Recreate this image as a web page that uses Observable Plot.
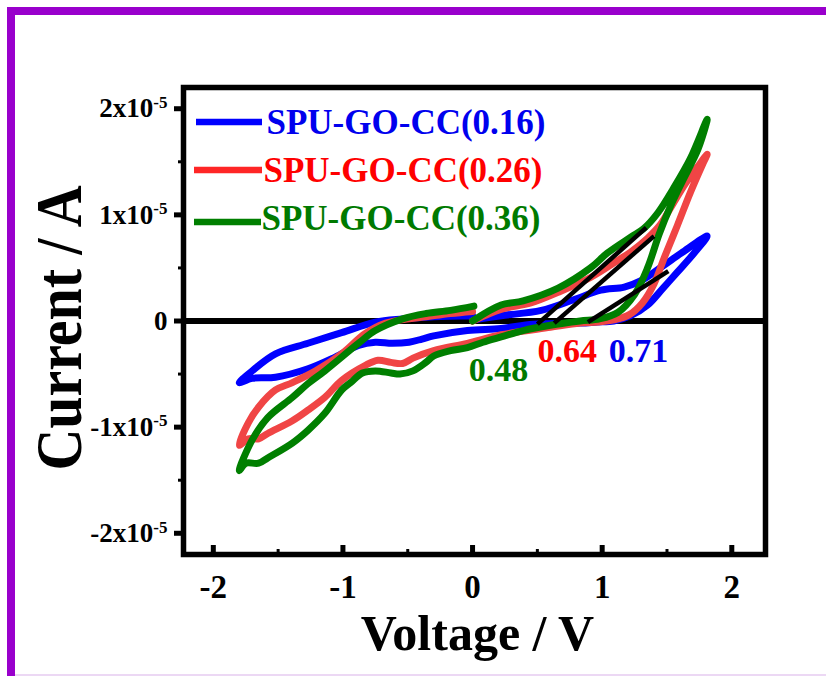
<!DOCTYPE html>
<html>
<head>
<meta charset="utf-8">
<script src="https://cdn.jsdelivr.net/npm/d3@7"></script>
<script src="https://cdn.jsdelivr.net/npm/@observablehq/plot@0.6"></script>
<style>
  html, body { margin: 0; padding: 0; background: #fff; }
  #wrap { position: relative; width: 826px; height: 676px; overflow: hidden; background: #fff; }
  #wrap svg { position: absolute; left: 0; top: 0; }
  #border { position: absolute; left: 7px; top: 7px; width: 900px; height: 900px; box-sizing: border-box;
            border-left: 8px solid #9900cc; border-top: 8px solid #9900cc; z-index: 2; pointer-events: none; }
  #bottomline { position: absolute; left: 15px; top: 674px; width: 820px; height: 2px; background: #ecd8f4; z-index: 2; }
</style>
</head>
<body>
<div id="wrap"><div id="border"></div><div id="bottomline"></div></div>
<script>
// ---------------- data ----------------
const seriesNames = ["SPU-GO-CC(0.16)", "SPU-GO-CC(0.26)", "SPU-GO-CC(0.36)"];

// Voltage (V) and current (x10^-5 A), traced along each CV loop
const blueV = [0.00,0.22,0.53,0.78,0.99,1.17,1.30,1.47,1.61,1.81,1.71,1.58,1.47,1.35,1.22,1.09,0.96,0.83,0.47,0.22,-0.04,-0.30,-0.39,-0.49,-0.62,-0.75,-0.88,-1.06,-1.27,-1.52,-1.70,-1.80,-1.70,-1.52,-1.27,-1.01,-0.75,-0.54,-0.30,0.00];
const blueI = [0.01,0.05,0.10,0.20,0.29,0.32,0.38,0.52,0.64,0.80,0.64,0.46,0.31,0.15,0.05,0.00,-0.01,-0.02,-0.03,-0.07,-0.09,-0.14,-0.17,-0.20,-0.21,-0.20,-0.23,-0.34,-0.45,-0.53,-0.54,-0.58,-0.47,-0.31,-0.21,-0.11,-0.01,0.02,0.04,0.05];

const redV = [0.00,0.22,0.45,0.66,0.91,1.12,1.22,1.35,1.45,1.53,1.64,1.74,1.81,1.78,1.68,1.58,1.48,1.40,1.31,1.21,1.09,0.97,0.83,0.60,0.22,-0.04,-0.30,-0.46,-0.54,-0.63,-0.73,-0.83,-1.01,-1.14,-1.27,-1.39,-1.58,-1.65,-1.73,-1.80,-1.73,-1.65,-1.52,-1.39,-1.21,-1.01,-0.83,-0.67,-0.49,-0.36,-0.17,0.00];
const redI = [0.00,0.11,0.17,0.27,0.41,0.57,0.65,0.78,0.91,1.07,1.29,1.46,1.57,1.49,1.21,0.90,0.60,0.35,0.17,0.06,0.01,-0.01,-0.02,-0.06,-0.13,-0.21,-0.28,-0.35,-0.40,-0.39,-0.37,-0.42,-0.56,-0.72,-0.84,-0.94,-1.06,-1.11,-1.11,-1.17,-0.96,-0.81,-0.65,-0.58,-0.47,-0.31,-0.12,-0.02,0.02,0.04,0.07,0.09];

const greenV = [0.00,0.22,0.39,0.66,0.91,1.04,1.22,1.32,1.43,1.55,1.68,1.81,1.74,1.62,1.53,1.44,1.35,1.25,1.12,0.98,0.83,0.60,0.39,0.22,0.08,-0.04,-0.17,-0.30,-0.36,-0.46,-0.56,-0.63,-0.75,-0.85,-0.94,-1.01,-1.14,-1.27,-1.39,-1.58,-1.65,-1.75,-1.80,-1.70,-1.58,-1.39,-1.27,-1.14,-0.88,-0.75,-0.54,-0.36,-0.17,0.01];
const greenI = [0.00,0.15,0.19,0.31,0.50,0.64,0.79,0.87,1.02,1.25,1.53,1.90,1.62,1.32,1.09,0.82,0.50,0.25,0.08,0.02,0.00,-0.04,-0.09,-0.15,-0.20,-0.25,-0.28,-0.33,-0.39,-0.47,-0.50,-0.49,-0.47,-0.49,-0.58,-0.65,-0.87,-1.03,-1.15,-1.29,-1.34,-1.34,-1.41,-1.12,-0.91,-0.72,-0.59,-0.47,-0.21,-0.09,0.02,0.07,0.10,0.14];

// Tangent lines (onset potentials)
const tangentV1 = [0.89, 0.63, 0.50];
const tangentI1 = [-0.01, -0.02, -0.03];
const tangentV2 = [1.51, 1.40, 1.34];
const tangentI2 = [0.47, 0.80, 0.88];

// Onset labels
const onsetText = ["0.71", "0.64", "0.48"];
const onsetV = [1.28, 0.73, 0.20];
const onsetI = [-0.28, -0.28, -0.46];

const xTicks = [-2, -1, 0, 1, 2];
const xMinor = [-1.5, -0.5, 0.5, 1.5];
const yTicks = [-2, -1, 0, 1, 2];          // x10^-5 A
const yMinor = [-1.5, -0.5, 0.5, 1.5];

// ---------------- styles ----------------
const lineColors = ["#0000ff", "#f04545", "#007f00"];
const textColors = ["#0000ee", "#ff0000", "#007a00"];
const swatchColors = ["#0000ff", "#ff2626", "#007f00"];
const FONT = "'Liberation Serif','Times New Roman',serif";

const E = 1e-5;
const toRows = (V, I) => V.map((v, k) => ({v, i: I[k] * E}));
const loops = [toRows(blueV, blueI), toRows(redV, redI), toRows(greenV, greenI)];
const tangents = tangentV1.map((v, k) => ({x1: v, y1: tangentI1[k] * E, x2: tangentV2[k], y2: tangentI2[k] * E}));
const onsets = onsetText.map((t, k) => ({t, v: onsetV[k], i: onsetI[k] * E, c: textColors[k]}));

const lineOpts = (k) => ({x: "v", y: "i", stroke: lineColors[k], strokeWidth: 7, curve: "catmull-rom",
                          strokeLinecap: "round", strokeLinejoin: "round"});

const legendOffsets = [[83, 35], [80, 83], [78, 131]];

const plot = Plot.plot({
  width: 826,
  height: 676,
  marginLeft: 183,
  marginRight: 61,
  marginTop: 87,
  marginBottom: 122,
  style: {fontFamily: FONT, background: "transparent", overflow: "visible"},
  x: {domain: [-2.23, 2.26], label: null},
  y: {domain: [-2.2e-5, 2.2e-5], label: null},
  marks: [
    Plot.ruleY([0], {stroke: "black", strokeWidth: 6}),
    Plot.line(loops[0], lineOpts(0)),
    Plot.line(loops[1], lineOpts(1)),
    Plot.line(loops[2], lineOpts(2)),
    Plot.link(tangents, {x1: "x1", y1: "y1", x2: "x2", y2: "y2", stroke: "black", strokeWidth: 4.5}),
    Plot.text(onsets, {x: "v", y: "i", text: "t", fill: "c", fontSize: 34, fontWeight: "bold", textAnchor: "middle", lineAnchor: "middle"}),
    ...seriesNames.map((s, k) => Plot.text([s], {frameAnchor: "top-left", dx: legendOffsets[k][0], dy: legendOffsets[k][1],
        fill: textColors[k], fontSize: 35, fontWeight: "bold", textAnchor: "start", lineAnchor: "middle"})),
    // x axis: inward ticks + labels
    Plot.axisX(xTicks, {tickSize: -9, strokeWidth: 5, tickFormat: () => "", label: null}),
    Plot.axisX(xMinor, {tickSize: -5, strokeWidth: 3, tickFormat: () => "", label: null}),
    Plot.axisX(xTicks, {tickSize: 0, tickPadding: 0, dy: 20, fontSize: 33, fontWeight: "bold", label: null,
        tickFormat: d => (d < 0 ? "-" + Math.abs(d) : String(d))}),
    // y axis: outward ticks + labels
    Plot.axisY(yTicks.map(d => d * E), {tickSize: 9, strokeWidth: 5, tickFormat: () => "", label: null}),
    Plot.axisY(yMinor.map(d => d * E), {tickSize: 5, strokeWidth: 3, tickFormat: () => "", label: null}),
    Plot.axisY(yTicks.map(d => d * E), {tickSize: 0, tickPadding: 16, fontSize: 27, fontWeight: "bold", label: null,
        tickFormat: d => { const n = Math.round(d / E); return n === 0 ? "0" : (n < 0 ? "-" : "") + Math.abs(n) + "x10|-5"; }}),
    // axis titles
    Plot.text(["Voltage / V"], {frameAnchor: "bottom", dx: 3, dy: 79, fontSize: 50, fontWeight: "bold", textAnchor: "middle", lineAnchor: "middle"}),
    Plot.text(["Current / A"], {frameAnchor: "left", dx: -124, dy: 7, rotate: -90, fontSize: 66, fontWeight: "bold", textAnchor: "middle", lineAnchor: "middle"}),
    Plot.frame({stroke: "black", strokeWidth: 5.5})
  ]
});

document.getElementById("wrap").prepend(plot);

// superscripts on the y tick labels; condensed y title
d3.select(plot).selectAll("text").each(function () {
  const el = d3.select(this);
  const txt = this.textContent;
  if (txt && txt.includes("|")) {
    const [base, sup] = txt.split("|");
    el.text(null);
    el.append("tspan").text(base);
    el.append("tspan").attr("font-size", 17).attr("dy", "-0.55em").text(sup);
  } else if (txt === "Current / A") {
    el.attr("textLength", 285).attr("lengthAdjust", "spacingAndGlyphs");
  }
});

// legend swatches
const svg = d3.select(plot);
const swY = [122, 170, 222];
const swX = [[196, 262], [194, 262], [194, 261]];
swY.forEach((y, k) => {
  svg.append("line").attr("x1", swX[k][0]).attr("x2", swX[k][1]).attr("y1", y).attr("y2", y)
     .attr("stroke", swatchColors[k]).attr("stroke-width", 6.5);
});
</script>
</body>
</html>
